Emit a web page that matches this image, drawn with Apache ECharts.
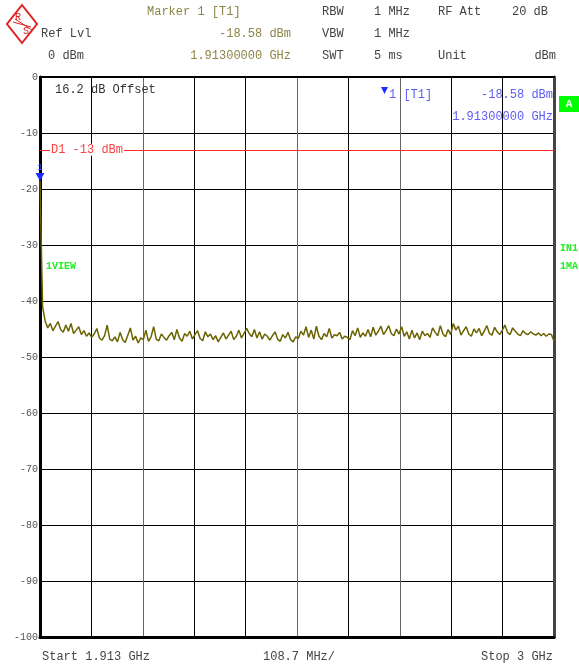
<!DOCTYPE html>
<html>
<head>
<meta charset="utf-8">
<script src="https://cdn.jsdelivr.net/npm/echarts@6/dist/echarts.min.js"></script>
<style>
  html, body { margin: 0; padding: 0; background: #fff; }
  #chart { width: 579px; height: 668px; }
</style>
</head>
<body>
<div id="chart"></div>
<script>
// sweep settings
const startLabel = 'Start 1.913 GHz';
const stopLabel = 'Stop 3 GHz';
const spanMHz = 1087;
const divMHz = 108.7;
const refLevel = 0;
const bottomLevel = -100;
const levelStep = 10;

// marker 1 / display line
const markerFreqMHz = 0;
const markerDbm = -18.58;
const displayLineDbm = -13;

// trace 1 (dBm), evenly spread over the span
const traceDbm = [
  -18.58, -41.0, -43.6, -44.8, -44.0, -45.3, -44.5, -43.7, -45.1, -45.6,
  -44.3, -45.4, -44.0, -45.8, -45.2, -44.6, -46.0, -45.3, -46.3, -45.7,
  -46.5, -45.9, -44.9, -46.6, -47.0, -46.2, -44.3, -46.8, -47.1, -46.4,
  -47.3, -45.6, -46.9, -47.4, -46.1, -44.8, -47.0, -46.3, -47.5, -46.6,
  -46.9, -45.2, -47.2, -46.4, -44.6, -46.8, -47.1, -45.9, -46.5, -47.0,
  -46.2, -45.6, -46.9, -45.1, -46.6, -47.2, -45.8, -46.3, -45.4, -46.8,
  -46.0, -45.3, -46.7, -47.1, -45.5, -46.4, -45.9, -46.9, -46.2, -47.3,
  -46.5, -45.7, -46.8, -46.1, -45.4, -46.9, -46.3, -45.2, -46.6, -45.8,
  -44.9, -45.8, -46.4, -45.1, -46.6, -45.5, -46.8, -45.9, -46.3, -47.0,
  -46.2, -45.5, -46.8, -47.2, -46.0, -46.6, -45.6, -46.9, -47.3, -46.4,
  -46.7, -45.4, -46.1, -44.6, -46.5, -45.2, -46.8, -44.5, -46.3, -46.9,
  -45.8, -46.4, -44.9, -46.6, -46.0, -46.2, -45.6, -46.8, -46.3, -46.5,
  -46.9, -45.3, -46.2, -44.8, -46.5, -45.7, -46.3, -45.1, -46.4, -44.7,
  -46.1, -45.4, -44.5, -46.0, -45.3, -44.4, -45.8, -46.2, -45.0, -45.9,
  -44.6, -46.3, -45.5, -46.8, -45.2, -46.6, -45.7, -46.9, -45.4, -46.2,
  -45.8, -46.5, -44.8, -45.6, -46.2, -44.4, -45.9, -46.4, -45.1, -46.0,
  -44.0, -45.2, -44.5, -46.1, -45.3, -44.6, -45.9, -46.3, -45.0, -45.7,
  -44.9, -46.2, -45.4, -44.4, -45.8, -46.1, -44.7, -45.5, -46.0, -45.2,
  -44.3, -45.6, -46.0, -44.8, -45.4, -45.9, -46.2, -45.3, -45.8, -46.0,
  -45.5, -45.9, -46.1, -45.7, -46.2, -45.8, -46.3, -45.9, -46.0, -47.2
];

const traceData = traceDbm.map((v, i) => [i * spanMHz / (traceDbm.length - 1), v]);

const mono = 'Liberation Mono, DejaVu Sans Mono, monospace';
const olive = '#8c8447';
const dark = '#444';
const blue = '#5c5cf5';
const green = '#22ee22';

const chart = echarts.init(document.getElementById('chart'));

chart.setOption({
  animation: false,
  backgroundColor: '#fff',
  grid: { left: 40, top: 77, width: 514, height: 560, containLabel: false },
  xAxis: [
    {
      type: 'value', min: 0, max: spanMHz, interval: divMHz,
      axisLine: { show: true, onZero: false, lineStyle: { color: '#000', width: 3 } },
      axisTick: { show: false },
      axisLabel: { show: false },
      splitLine: {
        show: true,
        lineStyle: {
          width: 1,
          color: ['#000', '#000', '#666', '#000', '#000', '#666', '#000', '#666', '#000', '#000', '#000']
        }
      }
    },
    {
      type: 'value', position: 'top', min: 0, max: spanMHz,
      axisLine: { show: true, onZero: false, lineStyle: { color: '#000', width: 2 } },
      axisTick: { show: false }, axisLabel: { show: false }, splitLine: { show: false }
    }
  ],
  yAxis: [
    {
      type: 'value', min: bottomLevel, max: refLevel, interval: levelStep,
      axisLine: { show: true, onZero: false, lineStyle: { color: '#000', width: 3 } },
      axisTick: { show: false },
      axisLabel: { show: true, margin: 2, color: '#555', fontFamily: mono, fontSize: 10 },
      splitLine: { show: true, lineStyle: { color: '#000', width: 1 } }
    },
    {
      type: 'value', position: 'right', min: bottomLevel, max: refLevel,
      axisLine: { show: true, onZero: false, lineStyle: { color: '#444', width: 3 } },
      axisTick: { show: false }, axisLabel: { show: false }, splitLine: { show: false }
    }
  ],
  series: [
    {
      name: 'Trace 1',
      type: 'line',
      data: traceData,
      showSymbol: false,
      lineStyle: { color: '#6b6300', width: 1.5 },
      z: 3,
      markLine: {
        silent: true,
        symbol: 'none',
        label: { show: false },
        lineStyle: { color: '#ff2a2a', width: 1, type: 'solid' },
        data: [{ yAxis: displayLineDbm }]
      },
      markPoint: {
        silent: true,
        symbol: 'triangle',
        symbolRotate: 180,
        symbolSize: [9, 8],
        symbolOffset: [0, -4],
        itemStyle: { color: '#1a2cff' },
        label: { show: true, position: 'top', distance: 1, formatter: '1', color: '#3a4cff', fontFamily: mono, fontSize: 9 },
        data: [{ coord: [markerFreqMHz, markerDbm] }]
      }
    }
  ]
});

// position of display-line label from the axis scale
const d1 = chart.convertToPixel({ xAxisIndex: 0, yAxisIndex: 0 }, [0, displayLineDbm]);

function txt(x, y, text, color, align, extra) {
  return Object.assign({
    type: 'text', x: x, y: y, silent: true, z: 10,
    style: { text: text, fill: color, font: '12px ' + mono, textAlign: align || 'left', textVerticalAlign: 'middle' }
  }, extra || {});
}

const elements = [
  // R&S logo
  { type: 'polygon', shape: { points: [[22, 5], [37, 24], [22, 43], [7, 24]] }, style: { fill: 'none', stroke: '#e02020', lineWidth: 2 } },
  { type: 'line', shape: { x1: 13, y1: 22, x2: 31, y2: 27 }, style: { stroke: '#e02020', lineWidth: 1 } },
  { type: 'line', shape: { x1: 15, y1: 19, x2: 32, y2: 30 }, style: { stroke: '#e02020', lineWidth: 1 } },
  txt(18, 17, 'R', '#e02020', 'center', { style: { text: 'R', fill: '#e02020', font: '10px ' + mono, textAlign: 'center', textVerticalAlign: 'middle' } }),
  txt(26, 31, 'S', '#e02020', 'center', { style: { text: 'S', fill: '#e02020', font: '10px ' + mono, textAlign: 'center', textVerticalAlign: 'middle' } }),

  // header
  txt(147, 12, 'Marker 1 [T1]', olive),
  txt(41, 34, 'Ref Lvl', dark),
  txt(48, 56, '0 dBm', dark),
  txt(291, 34, '-18.58 dBm', olive, 'right'),
  txt(291, 56, '1.91300000 GHz', olive, 'right'),
  txt(322, 12, 'RBW', dark),
  txt(374, 12, '1 MHz', dark),
  txt(438, 12, 'RF Att', dark),
  txt(512, 12, '20 dB', dark),
  txt(322, 34, 'VBW', dark),
  txt(374, 34, '1 MHz', dark),
  txt(322, 56, 'SWT', dark),
  txt(374, 56, '5 ms', dark),
  txt(438, 56, 'Unit', dark),
  txt(556, 56, 'dBm', dark, 'right'),

  // inside the grid
  txt(55, 90, '16.2 dB Offset', '#333'),
  txt(d1[0] + 10, d1[1], 'D1 -13 dBm', '#ff4040', 'left', {
    style: { text: 'D1 -13 dBm', fill: '#ff4040', font: '12px ' + mono, textAlign: 'left', textVerticalAlign: 'middle', backgroundColor: '#fff', padding: [0, 1] }
  }),
  { type: 'polygon', z: 10, shape: { points: [[381, 87], [388, 87], [384.5, 94]] }, style: { fill: '#1a2cff' } },
  txt(389, 95, '1 [T1]', blue),
  txt(553, 95, '-18.58 dBm', blue, 'right'),
  txt(553, 117, '1.91300000 GHz', blue, 'right'),

  // trace / status labels
  txt(46, 266, '1VIEW', green, 'left', { style: { text: '1VIEW', fill: green, font: 'bold 10px ' + mono, textAlign: 'left', textVerticalAlign: 'middle' } }),
  txt(560, 248, 'IN1', green, 'left', { style: { text: 'IN1', fill: green, font: 'bold 10px ' + mono, textAlign: 'left', textVerticalAlign: 'middle' } }),
  txt(560, 266, '1MA', green, 'left', { style: { text: '1MA', fill: green, font: 'bold 10px ' + mono, textAlign: 'left', textVerticalAlign: 'middle' } }),
  { type: 'rect', z: 10, shape: { x: 559, y: 96, width: 20, height: 16 }, style: { fill: '#00ff00' } },
  txt(569, 104, 'A', '#fff', 'center', { style: { text: 'A', fill: '#fff', font: 'bold 11px ' + mono, textAlign: 'center', textVerticalAlign: 'middle' } }),

  // footer
  txt(42, 657, startLabel, dark),
  txt(263, 657, '108.7 MHz/', dark),
  txt(553, 657, stopLabel, dark, 'right')
];

chart.setOption({ graphic: { elements: elements } });
</script>
</body>
</html>
